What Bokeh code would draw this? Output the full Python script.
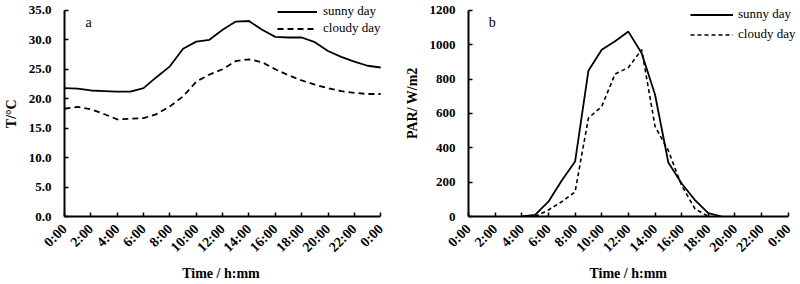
import math
from bokeh.plotting import figure
from bokeh.layouts import row
from bokeh.models import Range1d, FixedTicker, Label
from bokeh.embed import file_html
from bokeh.resources import INLINE

# ---- data ----
hours_a = list(range(0, 25))
sunny_temp = [21.8, 21.7, 21.4, 21.3, 21.2, 21.2, 21.8, 23.7, 25.5, 28.5, 29.7, 30.0, 31.7,
              33.1, 33.2, 31.7, 30.5, 30.4, 30.4, 29.6, 28.1, 27.1, 26.3, 25.6, 25.3]
cloudy_temp = [18.3, 18.6, 18.2, 17.4, 16.5, 16.6, 16.7, 17.4, 18.7, 20.4, 22.9, 24.1, 25.0,
               26.4, 26.7, 26.2, 25.0, 24.0, 23.1, 22.4, 21.8, 21.3, 21.0, 20.8, 20.8]

hours_sunny_b = list(range(4, 20))
sunny_par = [0, 10, 86, 210, 320, 848, 971, 1020, 1076, 950, 710, 314, 192, 95, 20, 0]
hours_cloudy_b = list(range(5, 19))
cloudy_par = [0, 38, 86, 143, 573, 640, 829, 867, 971, 525, 383, 180, 45, 0]

tick_hours = [0, 2, 4, 6, 8, 10, 12, 14, 16, 18, 20, 22, 24]
tick_labels = ["0:00", "2:00", "4:00", "6:00", "8:00", "10:00", "12:00", "14:00",
               "16:00", "18:00", "20:00", "22:00", "0:00"]
temp_ticks = [0, 5, 10, 15, 20, 25, 30, 35]
par_ticks = [0, 200, 400, 600, 800, 1000, 1200]

SERIF = "Liberation Serif"
NB = "\u00a0"


def style(p, yticks, ylabel, ylab_fmt, ybounds, xlabel):
    p.outline_line_color = None
    p.xgrid.grid_line_color = None
    p.ygrid.grid_line_color = None
    p.xaxis.ticker = FixedTicker(ticks=tick_hours)
    p.xaxis.major_label_overrides = {h: lab for h, lab in zip(tick_hours, tick_labels)}
    p.xaxis.bounds = (0, 24)
    p.yaxis.ticker = FixedTicker(ticks=yticks)
    p.yaxis.major_label_overrides = {t: ylab_fmt(t) for t in yticks}
    p.yaxis.bounds = ybounds
    for ax in (p.xaxis[0], p.yaxis[0]):
        ax.axis_line_width = 2
        ax.axis_line_color = "black"
        ax.major_tick_line_width = 1.5
        ax.major_tick_in = 4
        ax.major_tick_out = 0
        ax.minor_tick_line_color = None
        ax.major_label_text_font = SERIF
        ax.major_label_text_font_style = "bold"
        ax.major_label_text_font_size = "13px"
        ax.major_label_text_color = "black"
        ax.axis_label_text_font = SERIF
        ax.axis_label_text_font_style = "bold"
        ax.axis_label_text_font_size = "14px"
        ax.axis_label_text_color = "black"
    p.xaxis.major_label_text_font_size = "14px"
    p.xaxis.major_label_orientation = math.pi / 4
    p.xaxis.major_label_standoff = 10
    p.xaxis.axis_label = xlabel
    p.xaxis.axis_label_standoff = 3
    p.yaxis.axis_label = ylabel
    p.yaxis.major_label_standoff = 13
    p.yaxis.axis_label_standoff = 7


def style_legend(p, loc, spacing, glyph_w, standoff):
    lg = p.legend[0]
    lg.location = loc
    lg.border_line_color = None
    lg.background_fill_alpha = 0
    lg.label_text_font = SERIF
    lg.label_text_font_size = "13px"
    lg.label_text_color = "black"
    lg.glyph_width = glyph_w
    lg.glyph_height = 15
    lg.label_height = 15
    lg.label_standoff = standoff
    lg.spacing = spacing
    lg.padding = 0
    lg.margin = 0


# ---- panel a ----
pa = figure(width=400, height=284, output_backend="svg", toolbar_location=None,
            x_range=Range1d(0, 25.35), y_range=Range1d(0, 36.68),
            min_border_left=61, min_border_right=2, min_border_top=0, min_border_bottom=66)
pa.line(hours_a, sunny_temp, line_color="black", line_width=1.8, legend_label="sunny day")
pa.line(hours_a, cloudy_temp, line_color="black", line_width=1.8, line_dash="6 4",
        legend_label="cloudy day")
style(pa, temp_ticks, "T/°C" + NB * 3, lambda t: f"{t:.1f}", (0, 35),
      "Time / h:mm" + NB * 6)
style_legend(pa, (213, 180), 1, 40, 6)
pa.add_layout(Label(x=1.6, y=31.6, text="a", text_font=SERIF, text_font_size="14px",
                    text_color="black"))

# ---- panel b ----
pb = figure(width=400, height=284, output_backend="svg", toolbar_location=None,
            x_range=Range1d(0, 24.77), y_range=Range1d(0, 1257),
            min_border_left=68, min_border_right=2, min_border_top=0, min_border_bottom=64)
pb.line(hours_sunny_b, sunny_par, line_color="black", line_width=1.8, legend_label="sunny day")
pb.line(hours_cloudy_b, cloudy_par, line_color="black", line_width=1.6, line_dash="4 3",
        legend_label="cloudy day")
style(pb, par_ticks, NB * 3 + "PAR/ W/m2", lambda t: f"{t}", (0, 1200),
      "Time / h:mm" + NB * 3)
style_legend(pb, (222, 174), 4, 43, 5)
pb.add_layout(Label(x=1.52, y=1085, text="b", text_font=SERIF, text_font_size="14px",
                    text_color="black"))

layout = row(pa, pb)
open("out.html", "w").write(file_html(layout, INLINE))
